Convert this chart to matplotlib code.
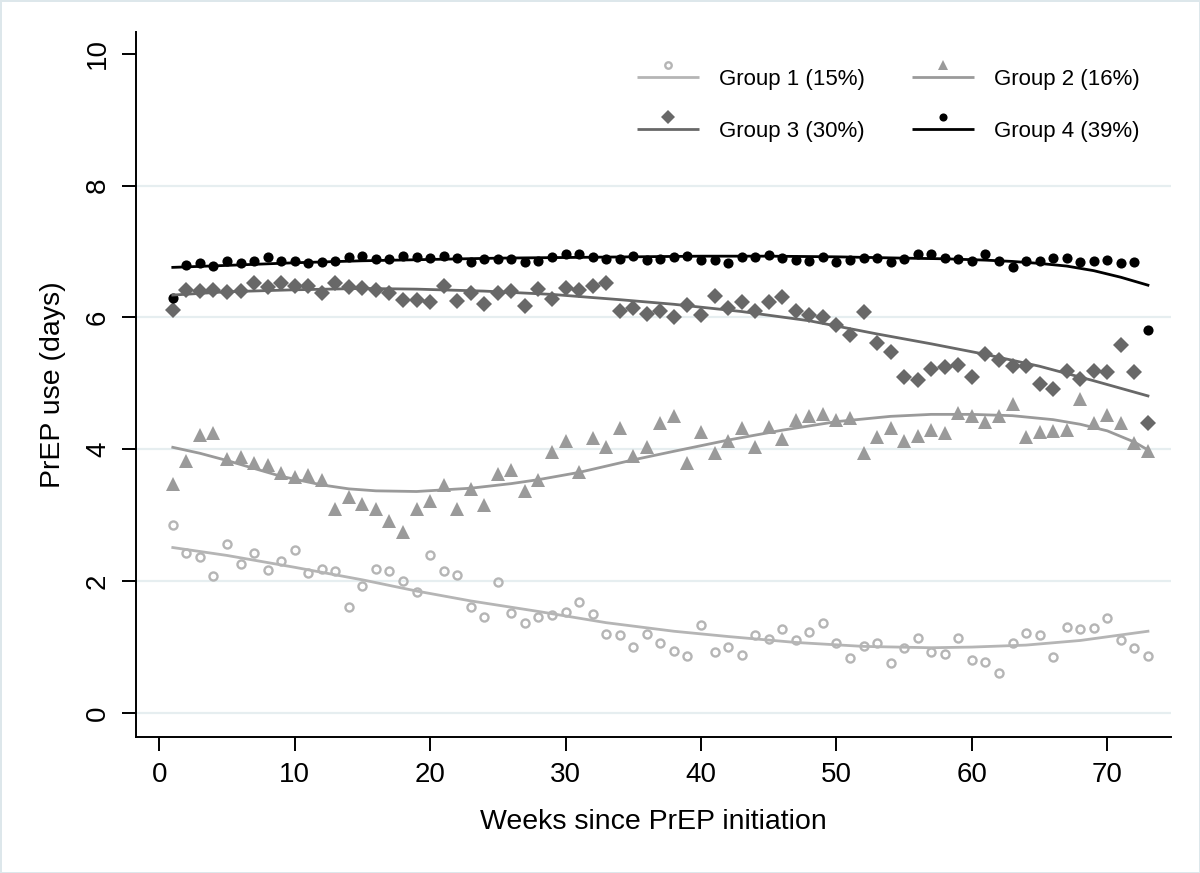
import matplotlib
matplotlib.use('Agg')
import matplotlib.pyplot as plt
from matplotlib.legend_handler import HandlerBase
from matplotlib.lines import Line2D

plt.rcParams['font.family'] = ['Liberation Sans', 'DejaVu Sans']

weeks = list(range(1, 74))

g1 = [2.85, 2.42, 2.36, 2.08, 2.57, 2.26, 2.42, 2.17, 2.30, 2.48,
      2.13, 2.19, 2.15, 1.61, 1.93, 2.19, 2.16, 2.00, 1.84, 2.40,
      2.15, 2.10, 1.61, 1.45, 1.98, 1.51, 1.37, 1.45, 1.48, 1.53,
      1.68, 1.50, 1.20, 1.18, 1.00, 1.20, 1.06, 0.94, 0.86, 1.34,
      0.92, 1.00, 0.88, 1.19, 1.12, 1.28, 1.10, 1.23, 1.37, 1.06,
      0.83, 1.01, 1.06, 0.76, 0.98, 1.14, 0.92, 0.90, 1.14, 0.80,
      0.77, 0.60, 1.06, 1.22, 1.19, 0.85, 1.30, 1.28, 1.29, 1.44,
      1.11, 0.98, 0.87]

g2 = [3.47, 3.83, 4.22, 4.24, 3.86, 3.89, 3.79, 3.76, 3.64, 3.58,
      3.61, 3.54, 3.09, 3.28, 3.17, 3.09, 2.92, 2.75, 3.09, 3.22,
      3.46, 3.10, 3.40, 3.15, 3.62, 3.69, 3.37, 3.54, 3.96, 4.13,
      3.66, 4.17, 4.03, 4.32, 3.90, 4.03, 4.40, 4.50, 3.79, 4.26,
      3.94, 4.13, 4.32, 4.04, 4.34, 4.16, 4.44, 4.50, 4.53, 4.44,
      4.48, 3.95, 4.18, 4.32, 4.13, 4.20, 4.30, 4.24, 4.55, 4.50,
      4.41, 4.50, 4.69, 4.19, 4.27, 4.28, 4.29, 4.77, 4.40, 4.52,
      4.40, 4.10, 3.97]

g3 = [6.12, 6.42, 6.40, 6.42, 6.39, 6.40, 6.53, 6.46, 6.53, 6.47,
      6.47, 6.37, 6.53, 6.46, 6.44, 6.42, 6.37, 6.27, 6.27, 6.23,
      6.48, 6.25, 6.37, 6.21, 6.37, 6.40, 6.18, 6.43, 6.28, 6.44,
      6.42, 6.48, 6.53, 6.10, 6.14, 6.05, 6.10, 6.00, 6.19, 6.04,
      6.33, 6.14, 6.24, 6.10, 6.23, 6.31, 6.10, 6.04, 6.00, 5.89,
      5.74, 6.08, 5.62, 5.47, 5.10, 5.05, 5.22, 5.25, 5.28, 5.10,
      5.44, 5.35, 5.27, 5.27, 4.99, 4.92, 5.19, 5.07, 5.19, 5.18,
      5.58, 5.18, 4.40]

g4 = [6.29, 6.80, 6.83, 6.78, 6.86, 6.83, 6.86, 6.91, 6.86, 6.85,
      6.83, 6.84, 6.86, 6.92, 6.94, 6.88, 6.89, 6.93, 6.91, 6.90,
      6.93, 6.90, 6.84, 6.89, 6.89, 6.88, 6.84, 6.85, 6.91, 6.96,
      6.96, 6.91, 6.89, 6.89, 6.94, 6.87, 6.89, 6.91, 6.94, 6.87,
      6.87, 6.83, 6.92, 6.92, 6.95, 6.90, 6.87, 6.86, 6.91, 6.84,
      6.87, 6.90, 6.90, 6.84, 6.88, 6.96, 6.97, 6.90, 6.88, 6.85,
      6.96, 6.86, 6.77, 6.86, 6.86, 6.90, 6.90, 6.84, 6.86, 6.87,
      6.83, 6.84, 5.81]

# fitted trajectories
fit1_w = [1, 5, 10, 15, 19, 23, 28, 33, 38, 42, 47, 52, 57, 60, 64, 68, 73]
fit1_v = [2.51, 2.39, 2.21, 2.02, 1.85, 1.70, 1.54, 1.37, 1.24, 1.16, 1.07,
          1.01, 0.99, 1.00, 1.03, 1.10, 1.24]
fit2_w = [1, 3, 5, 7, 9, 12, 14, 16, 19, 23, 26, 28, 31, 35, 38, 42, 46, 50,
          54, 57, 60, 63, 66, 68, 70, 72, 73]
fit2_v = [4.03, 3.94, 3.83, 3.71, 3.59, 3.46, 3.40, 3.37, 3.36, 3.41, 3.48,
          3.54, 3.65, 3.84, 3.97, 4.14, 4.29, 4.42, 4.50, 4.53, 4.53, 4.51,
          4.45, 4.38, 4.28, 4.11, 3.99]
fit3_w = [1, 5, 10, 15, 19, 24, 29, 34, 38, 43, 48, 53, 57, 61, 65, 69, 73]
fit3_v = [6.34, 6.39, 6.42, 6.44, 6.43, 6.40, 6.35, 6.27, 6.20, 6.09, 5.95,
          5.75, 5.60, 5.44, 5.26, 5.04, 4.81]
fit4_w = [1, 5, 10, 15, 20, 25, 30, 35, 40, 45, 50, 55, 58, 61, 63, 65, 67,
          69, 71, 73]
fit4_v = [6.76, 6.79, 6.83, 6.86, 6.88, 6.90, 6.91, 6.92, 6.93, 6.93, 6.92,
          6.90, 6.89, 6.87, 6.85, 6.82, 6.78, 6.71, 6.61, 6.49]

labels = ['Group 1 (15%)', 'Group 2 (16%)', 'Group 3 (30%)', 'Group 4 (39%)']
xticks = [0, 10, 20, 30, 40, 50, 60, 70]
yticks = [0, 2, 4, 6, 8, 10]


class MarkerAbove(HandlerBase):
    def create_artists(self, legend, orig_handle, xdescent, ydescent,
                       width, height, fontsize, trans):
        yl = height / 2 - ydescent
        ln = Line2D([-xdescent, width - xdescent], [yl, yl],
                    color=orig_handle.get_color(),
                    lw=orig_handle.get_linewidth(), solid_capstyle='butt')
        mk = Line2D([width / 2 - xdescent], [yl + 0.55 * fontsize],
                    linestyle='none', marker=orig_handle.get_marker(),
                    markersize=orig_handle.get_markersize() * 0.8,
                    markerfacecolor=orig_handle.get_markerfacecolor(),
                    markeredgecolor=orig_handle.get_markeredgecolor(),
                    markeredgewidth=orig_handle.get_markeredgewidth())
        ln.set_transform(trans)
        mk.set_transform(trans)
        return [ln, mk]


fig = plt.figure(figsize=(12, 8.73), dpi=100)
fig.patch.set_facecolor('white')
fig.patch.set_edgecolor('#dde7eb')
fig.patch.set_linewidth(2)
ax = fig.add_axes([0.1133, 0.1558, 0.8625, 0.8075])

styles = [
    dict(color='#b5b5b5', marker='o', ms=5.8, mfc='none', mec='#b5b5b5', mew=1.7),
    dict(color='#9a9a9a', marker='^', ms=9.5, mfc='#9a9a9a', mec='#9a9a9a', mew=0),
    dict(color='#686868', marker='D', ms=8.5, mfc='#686868', mec='#686868', mew=0),
    dict(color='#000000', marker='o', ms=7.3, mfc='#000000', mec='#000000', mew=0),
]
data = [g1, g2, g3, g4]
fits = [(fit1_w, fit1_v), (fit2_w, fit2_v), (fit3_w, fit3_v), (fit4_w, fit4_v)]

handles = []
for d, (fw, fv), st, lab in zip(data, fits, styles, labels):
    ax.plot(weeks, d, linestyle='none', marker=st['marker'], ms=st['ms'],
            mfc=st['mfc'], mec=st['mec'], mew=st['mew'], zorder=3)
    ax.plot(fw, fv, color=st['color'], lw=2.0, zorder=4)
    h = Line2D([], [], color=st['color'], lw=2.0, marker=st['marker'],
               markersize=st['ms'], markerfacecolor=st['mfc'],
               markeredgecolor=st['mec'], markeredgewidth=st['mew'])
    handles.append(h)

ax.set_xlim(-1.72, 74.7)
ax.set_ylim(-0.364, 10.33)
ax.set_xticks(xticks)
ax.set_yticks(yticks)
ax.set_yticklabels([str(t) for t in yticks], rotation=90, va='center')
ax.tick_params(axis='both', direction='out', length=10, width=1.4,
               labelsize=20, pad=8, color='black')
for y in yticks[:-1]:
    ax.axhline(y, color='#e6eef0', lw=1.6, zorder=1)
for s in ['top', 'right']:
    ax.spines[s].set_visible(False)
for s in ['left', 'bottom']:
    ax.spines[s].set_linewidth(1.4)

ax.set_xlabel('Weeks since PrEP initiation', fontsize=20.5, labelpad=15)
ax.set_ylabel('PrEP use (days)', fontsize=20.5, labelpad=14)

# legend filled row-wise: (G1, G2) on row 1, (G3, G4) on row 2
order = [0, 2, 1, 3]
leg = ax.legend([handles[i] for i in order], [labels[i] for i in order],
                loc='upper left', ncol=2,
                bbox_to_anchor=(637 / 1200, 1 - 69 / 873),
                bbox_transform=fig.transFigure, frameon=False,
                fontsize=16, handlelength=2.8, handletextpad=0.9,
                columnspacing=2.1, labelspacing=1.38, borderpad=0,
                borderaxespad=0,
                handler_map={Line2D: MarkerAbove()})

fig.savefig('out.png', dpi=100)
